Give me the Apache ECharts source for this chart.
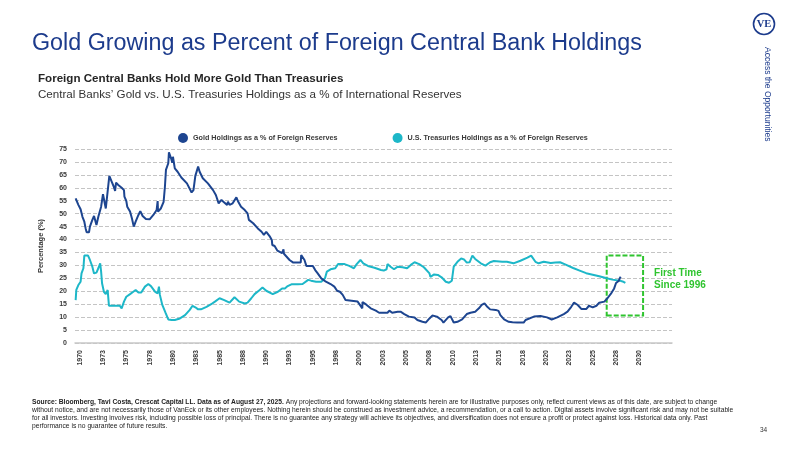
<!DOCTYPE html>
<html>
<head>
<meta charset="utf-8">
<script src="https://cdn.jsdelivr.net/npm/echarts@6/dist/echarts.min.js"></script>
<style>
  html, body { margin: 0; padding: 0; background: #fff; }
  #chart { width: 800px; height: 450px; }
</style>
</head>
<body>
<div id="chart"></div>
<script>
// x values are positions on the chart's own year axis
const goldYears = [1969.57, 1969.86, 1970.1, 1970.3, 1970.5, 1970.64, 1970.75, 1971.0, 1971.1, 1971.36, 1971.54, 1971.8, 1972.0, 1972.3, 1972.5, 1972.8, 1973.18, 1973.43, 1973.65, 1973.8, 1973.9, 1974.14, 1974.5, 1974.75, 1974.8, 1975.0, 1975.1, 1975.4, 1975.6, 1975.8, 1976.0, 1976.3, 1976.5, 1976.75, 1977.1, 1977.5, 1977.9, 1978.25, 1978.36, 1978.4, 1978.7, 1979.0, 1979.14, 1979.25, 1979.5, 1979.57, 1979.8, 1979.93, 1980.0, 1980.2, 1980.5, 1980.9, 1981.5, 1982.0, 1982.2, 1982.4, 1982.7, 1982.86, 1983.2, 1983.75, 1984.3, 1984.6, 1984.9, 1985.2, 1985.5, 1985.8, 1985.9, 1986.07, 1986.4, 1986.6, 1986.8, 1987.0, 1987.3, 1987.7, 1988.0, 1988.14, 1988.6, 1989.1, 1989.5, 1989.75, 1990.0, 1990.4, 1990.6, 1990.65, 1990.9, 1991.2, 1991.7, 1991.85, 1991.9, 1992.1, 1992.5, 1992.9, 1993.7, 1993.75, 1994.1, 1994.3, 1995.0, 1995.25, 1995.5, 1995.9, 1996.4, 1996.9, 1997.3, 1997.6, 1997.9, 1998.2, 1998.5, 1998.7, 1999.8, 2000.3, 2000.32, 2000.7, 2001.2, 2001.75, 2002.1, 2003.0, 2003.2, 2003.5, 2004.1, 2004.4, 2004.8, 2005.3, 2005.9, 2006.2, 2006.4, 2006.75, 2007.1, 2007.5, 2007.8, 2008.3, 2008.8, 2009.0, 2009.5, 2009.75, 2010.1, 2010.5, 2011.0, 2011.5, 2011.9, 2012.4, 2012.8, 2013.1, 2013.4, 2013.7, 2014.0, 2014.6, 2014.9, 2015.1, 2015.5, 2016.0, 2016.4, 2016.9, 2017.6, 2017.8, 2018.0, 2018.7, 2019.4, 2020.1, 2020.6, 2021.2, 2021.9, 2022.3, 2022.7, 2023.0, 2023.4, 2023.8, 2024.3, 2024.6, 2025.0, 2025.4, 2025.7, 2026.25, 2026.6, 2027.0, 2027.3, 2027.5, 2027.8, 2027.9, 2028.0];
const goldValues = [55.9, 53.4, 51.7, 48.8, 46.9, 44.3, 42.8, 42.8, 45.0, 47.6, 49.1, 45.6, 48.8, 52.7, 57.5, 52.0, 64.6, 62.4, 60.5, 58.8, 62.0, 61.1, 60.0, 59.1, 56.6, 54.9, 52.7, 50.8, 48.2, 45.0, 46.9, 49.5, 51.0, 49.1, 47.9, 47.8, 49.5, 51.4, 54.9, 50.8, 52.0, 54.6, 60.4, 66.9, 69.5, 73.7, 71.4, 69.7, 72.0, 67.5, 66.2, 64.0, 61.7, 58.2, 59.1, 64.6, 68.2, 66.2, 63.7, 61.7, 59.1, 57.2, 54.0, 55.3, 54.3, 53.4, 54.6, 53.4, 54.0, 54.6, 56.3, 54.6, 52.7, 51.4, 50.1, 47.6, 46.3, 44.3, 43.0, 41.8, 43.0, 41.1, 39.8, 37.9, 37.5, 35.7, 34.7, 36.2, 34.5, 34.0, 32.1, 31.1, 31.1, 34.0, 32.1, 29.8, 29.8, 28.2, 27.0, 25.0, 23.7, 22.8, 21.8, 20.2, 19.8, 18.6, 16.6, 16.0, 16.0, 13.4, 15.8, 14.9, 13.4, 12.5, 11.7, 11.7, 12.5, 11.7, 12.1, 12.1, 11.2, 10.2, 9.9, 8.9, 8.2, 8.2, 7.9, 9.5, 10.6, 10.2, 8.9, 7.9, 9.9, 10.4, 7.9, 8.2, 9.1, 11.2, 11.7, 12.1, 13.4, 14.7, 15.3, 14.0, 13.0, 12.8, 12.4, 10.8, 9.1, 8.2, 8.0, 7.9, 7.9, 8.9, 9.5, 10.2, 10.4, 9.9, 9.1, 9.9, 11.2, 12.1, 14.0, 15.6, 14.7, 13.1, 13.1, 14.4, 13.8, 14.4, 15.6, 16.0, 17.4, 19.3, 21.1, 23.2, 24.1, 25.0, 25.6];

const treasuryYears = [1969.57, 1969.64, 1969.86, 1970.1, 1970.2, 1970.4, 1970.5, 1970.9, 1971.1, 1971.36, 1971.54, 1971.8, 1972.0, 1972.2, 1972.3, 1972.4, 1972.6, 1972.8, 1973.0, 1973.14, 1974.3, 1974.5, 1974.75, 1975.0, 1975.4, 1975.75, 1976.0, 1976.3, 1976.6, 1977.0, 1977.36, 1977.64, 1978.1, 1978.36, 1978.5, 1978.6, 1978.86, 1979.2, 1979.5, 1979.86, 1980.2, 1980.75, 1981.3, 1981.8, 1982.1, 1982.4, 1982.7, 1983.0, 1983.6, 1984.1, 1984.5, 1985.0, 1985.5, 1986.07, 1986.6, 1987.1, 1987.7, 1988.0, 1988.4, 1988.75, 1989.3, 1989.6, 1990.0, 1990.7, 1991.25, 1991.7, 1992.0, 1992.3, 1992.7, 1993.4, 1993.9, 1994.1, 1994.5, 1994.8, 1995.35, 1995.9, 1996.3, 1996.5, 1996.9, 1997.4, 1997.7, 1998.4, 1998.9, 1999.4, 1999.7, 2000.1, 2000.4, 2000.9, 2001.6, 2002.3, 2002.6, 2002.9, 2003.0, 2003.4, 2003.7, 2004.1, 2004.6, 2005.1, 2005.5, 2005.9, 2006.4, 2006.9, 2007.5, 2007.6, 2008.0, 2008.4, 2008.8, 2009.25, 2009.6, 2009.9, 2010.1, 2010.5, 2010.9, 2011.2, 2011.5, 2011.8, 2012.1, 2012.4, 2013.0, 2013.5, 2014.0, 2014.4, 2015.3, 2015.8, 2016.5, 2017.25, 2018.0, 2018.4, 2018.86, 2019.2, 2019.75, 2020.5, 2021.0, 2021.5, 2022.1, 2022.9, 2023.6, 2024.3, 2025.0, 2025.7, 2026.4, 2027.1, 2027.9, 2028.2, 2028.5];
const treasuryValues = [16.6, 20.5, 22.4, 23.7, 26.9, 28.9, 33.8, 33.8, 32.1, 29.5, 26.9, 27.2, 28.9, 30.8, 27.6, 23.1, 19.8, 18.9, 20.5, 14.4, 14.4, 13.4, 16.0, 17.9, 18.9, 19.8, 20.5, 19.5, 19.5, 21.8, 22.8, 22.0, 19.8, 19.2, 21.8, 18.6, 14.7, 11.7, 9.1, 8.9, 8.9, 9.5, 10.8, 12.8, 14.4, 13.8, 13.0, 13.0, 14.0, 15.0, 16.0, 17.3, 16.6, 15.6, 17.7, 16.0, 15.3, 15.6, 17.3, 18.9, 20.5, 21.5, 20.2, 18.9, 19.8, 21.1, 21.1, 22.0, 22.7, 22.7, 22.8, 23.3, 24.4, 24.1, 23.7, 23.7, 25.0, 27.6, 28.5, 28.9, 30.5, 30.5, 29.8, 28.9, 30.5, 32.1, 30.8, 29.8, 29.1, 28.2, 28.0, 28.5, 30.5, 29.3, 28.5, 29.5, 29.3, 28.9, 30.2, 31.2, 30.5, 29.3, 26.9, 25.6, 26.5, 26.3, 25.4, 23.7, 23.3, 24.1, 29.5, 31.4, 32.7, 32.3, 31.1, 31.2, 33.8, 32.5, 30.8, 29.9, 31.2, 31.7, 31.4, 31.4, 30.8, 31.8, 33.0, 33.8, 31.4, 30.8, 31.4, 30.9, 31.1, 31.2, 30.3, 29.0, 28.0, 27.0, 26.4, 25.8, 25.1, 24.5, 24.1, 23.8, 23.2];

const xTickLabels = ['1970', '1973', '1975', '1978', '1980', '1983', '1985', '1988', '1990', '1993', '1995', '1998', '2000', '2003', '2005', '2008', '2010', '2013', '2015', '2018', '2020', '2023', '2025', '2028', '2030'];
const seriesNames = ['Gold Holdings as a % of Foreign Reserves', 'U.S. Treasuries Holdings as a % of Foreign Reserves'];
// highlighted box: [x0, y0] to [x1, y1]
const boxFrom = [2026.5, 10.6];
const boxTo = [2030.4, 33.8];

const FONT = 'Liberation Sans, Arial, Helvetica, sans-serif';
const NAVY = '#1c3b8c';
const GOLD_LINE = '#1d4590';
const TEAL = '#1db7c8';
const GREEN = '#2fc42f';

const tickPos = xTickLabels.map((t, i) => 1970 + i * 2.5);
const zip = (xs, ys) => xs.map((x, i) => [x, ys[i]]);

const chart = echarts.init(document.getElementById('chart'), null, { renderer: 'canvas' });

const NARROW = 'Liberation Sans Narrow, ' + FONT;
const footerStyle = { fontFamily: NARROW, fontSize: 6.7, fill: '#222' };
const footerLines = [
  'without notice, and are not necessarily those of VanEck or its other employees. Nothing herein should be construed as investment advice, a recommendation, or a call to action. Digital assets involve significant risk and may not be suitable',
  'for all investors. Investing involves risk, including possible loss of principal. There is no guarantee any strategy will achieve its objectives, and diversification does not ensure a profit or protect against loss. Historical data only. Past',
  'performance is no guarantee of future results.'
];

chart.setOption({
  backgroundColor: '#fff',
  animation: false,
  textStyle: { fontFamily: FONT },
  grid: { left: 75, right: 128, top: 149, bottom: 107 },
  legend: {
    left: 173, top: 128,
    itemWidth: 10, itemHeight: 10, itemGap: 55,
    icon: 'circle',
    textStyle: { fontSize: 7.2, fontWeight: 'bold', color: '#3a3a3a', fontFamily: FONT },
    data: seriesNames
  },
  xAxis: {
    type: 'value',
    min: 1969.5, max: 2033.5,
    axisLine: { show: true, lineStyle: { color: '#c8c8c8', width: 1.5 } },
    axisTick: { show: false },
    splitLine: { show: false },
    axisLabel: {
      customValues: tickPos,
      rotate: 90,
      margin: 7,
      fontSize: 7, fontWeight: 'bold', color: '#3a3a3a',
      formatter: v => xTickLabels[Math.round((v - 1970) / 2.5)]
    }
  },
  yAxis: {
    type: 'value',
    min: 0, max: 75, interval: 5,
    name: 'Percentage (%)',
    nameLocation: 'middle',
    nameGap: 30,
    nameTextStyle: { fontSize: 7.5, fontWeight: 'bold', color: '#333' },
    axisLine: { show: false },
    axisTick: { show: false },
    axisLabel: { fontSize: 7, fontWeight: 'bold', color: '#3a3a3a', margin: 8 },
    splitLine: { show: true, lineStyle: { color: '#c4c4c4', type: [4, 2], width: 1 } }
  },
  series: [
    {
      name: seriesNames[0], type: 'line', data: zip(goldYears, goldValues),
      showSymbol: false, color: GOLD_LINE,
      lineStyle: { width: 2, color: GOLD_LINE }, z: 3
    },
    {
      name: seriesNames[1], type: 'line', data: zip(treasuryYears, treasuryValues),
      showSymbol: false, color: TEAL,
      lineStyle: { width: 2, color: TEAL }, z: 2,
      markArea: {
        silent: true,
        itemStyle: { color: 'rgba(0,0,0,0)', borderColor: GREEN, borderWidth: 2, borderType: [5, 2] },
        label: {
          show: true, position: 'right', distance: 10, offset: [0, -6],
          formatter: 'First Time\nSince 1996',
          color: GREEN, fontSize: 10, fontWeight: 'bold', lineHeight: 12, align: 'left'
        },
        data: [[{ coord: boxFrom }, { coord: boxTo }]]
      }
    }
  ],
  graphic: [
    { type: 'text', left: 32, top: 32, style: { text: 'Gold Growing as Percent of Foreign Central Bank Holdings', fontFamily: FONT, fontSize: 23.3, fill: NAVY } },
    { type: 'text', left: 38, top: 73, style: { text: 'Foreign Central Banks Hold More Gold Than Treasuries', fontFamily: FONT, fontSize: 11.6, fontWeight: 'bold', fill: '#262626' } },
    { type: 'text', left: 38, top: 89, style: { text: 'Central Banks\u2019 Gold vs. U.S. Treasuries Holdings as a % of International Reserves', fontFamily: FONT, fontSize: 11.6, fill: '#333' } },
    { type: 'circle', shape: { cx: 764, cy: 24, r: 10.5 }, style: { fill: '#fff', stroke: NAVY, lineWidth: 1.6 } },
    { type: 'text', x: 764, y: 24.5, style: { text: 'VE', fontFamily: 'Liberation Serif, DejaVu Serif, serif', fontSize: 10.5, fontWeight: 'bold', fill: NAVY, align: 'center', verticalAlign: 'middle' } },
    { type: 'text', x: 767, y: 47, rotation: -Math.PI / 2, style: { text: 'Access the Opportunities', fontFamily: FONT, fontSize: 8.5, fill: NAVY, align: 'left', verticalAlign: 'middle' } },
    { type: 'text', left: 32, top: 399, style: {
      text: '{b|Source: Bloomberg, Tavi Costa, Crescat Capital LL. Data as of August 27, 2025.} Any projections and forward-looking statements herein are for illustrative purposes only, reflect current views as of this date, are subject to change',
      ...footerStyle,
      rich: { b: { fontFamily: NARROW, fontSize: 6.7, fontWeight: 'bold', fill: '#222' } }
    } },
    ...footerLines.map((t, i) => ({ type: 'text', left: 32, top: 407 + i * 8, style: { text: t, ...footerStyle } })),
    { type: 'text', left: 760, top: 427, style: { text: '34', fontFamily: FONT, fontSize: 6.5, fill: '#333' } }
  ]
});
</script>
</body>
</html>
